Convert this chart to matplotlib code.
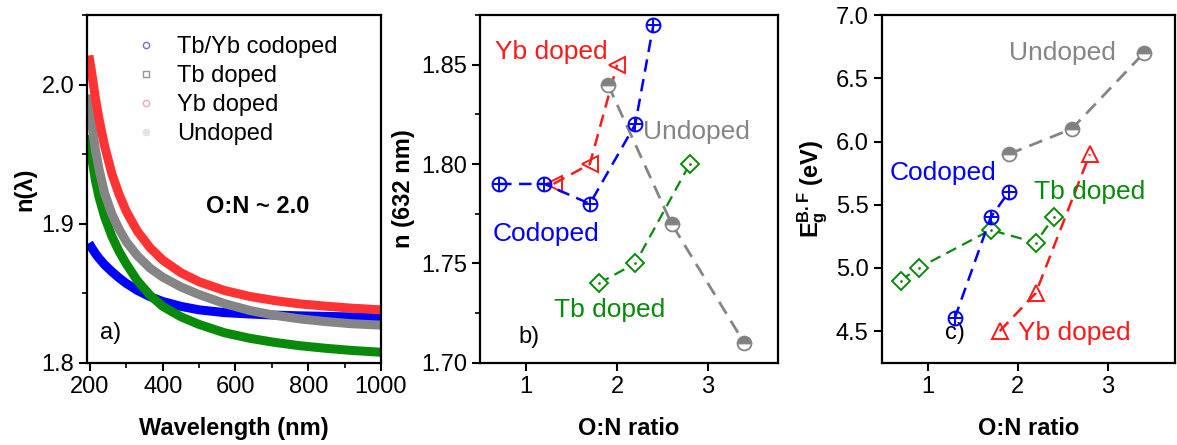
import numpy as np
import matplotlib.pyplot as plt
from matplotlib.lines import Line2D
from matplotlib.ticker import MultipleLocator

plt.rcParams['font.family'] = ['Liberation Sans', 'DejaVu Sans']
plt.rcParams['mathtext.fontset'] = 'custom'
plt.rcParams['mathtext.rm'] = 'Liberation Sans'
plt.rcParams['mathtext.bf'] = 'Liberation Sans:bold'
plt.rcParams['mathtext.it'] = 'Liberation Sans:italic'

# --- panel a: dispersion curves n(lambda) ---
wl = [197, 205, 215, 225, 240, 260, 280, 300, 330, 365, 400, 450, 500, 570, 640, 710, 777, 850, 920, 1000]
n_codoped = [1.886, 1.8825, 1.8785, 1.875, 1.8705, 1.8655, 1.861, 1.857, 1.852, 1.8475, 1.844, 1.8405,
             1.838, 1.836, 1.835, 1.8342, 1.8337, 1.8333, 1.8329, 1.8325]
n_tb = [1.964, 1.947, 1.931, 1.919, 1.905, 1.891, 1.880, 1.871, 1.859, 1.8485, 1.8405, 1.833,
        1.8275, 1.8215, 1.8175, 1.8145, 1.8122, 1.8103, 1.8088, 1.8075]
n_yb = [2.021, 2.008, 1.990, 1.975, 1.956, 1.936, 1.921, 1.9087, 1.8947, 1.8827, 1.8738, 1.8647,
        1.8582, 1.8519, 1.8476, 1.8446, 1.8423, 1.8406, 1.8392, 1.838]
n_undoped = [1.993, 1.972, 1.953, 1.939, 1.922, 1.907, 1.896, 1.887, 1.877, 1.868, 1.8615, 1.8545,
             1.849, 1.8425, 1.8375, 1.834, 1.8315, 1.8295, 1.828, 1.827]
legend_labels = ["Tb/Yb codoped", "Tb doped", "Yb doped", "Undoped"]

# --- panel b: n at 632 nm vs O:N ratio ---
b_co_x = [0.7, 1.2, 1.7, 2.2, 2.4]
b_co_y = [1.79, 1.79, 1.78, 1.82, 1.87]
b_yb_x = [1.3, 1.7, 2.0]
b_yb_y = [1.79, 1.80, 1.85]
b_tb_x = [1.8, 2.2, 2.8]
b_tb_y = [1.74, 1.75, 1.80]
b_un_x = [1.9, 2.6, 3.4]
b_un_y = [1.84, 1.77, 1.71]

# --- panel c: band gap vs O:N ratio ---
c_co_x = [1.3, 1.7, 1.9]
c_co_y = [4.6, 5.4, 5.6]
c_yb_x = [1.8, 2.2, 2.8]
c_yb_y = [4.5, 4.8, 5.9]
c_tb_x = [0.7, 0.9, 1.7, 2.2, 2.4]
c_tb_y = [4.9, 5.0, 5.3, 5.2, 5.4]
c_un_x = [1.9, 2.6, 3.4]
c_un_y = [5.9, 6.1, 6.7]

BLUE = '#0000ff'
RED = '#ff1a1a'
GREEN = '#0a8a0a'
GRAY = '#858585'
FS = 17

fig = plt.figure(figsize=(11.77, 4.45), dpi=100)
ax_a = fig.add_axes([0.0743, 0.185, 0.2494, 0.781])
ax_b = fig.add_axes([0.4078, 0.185, 0.2530, 0.781])
ax_c = fig.add_axes([0.7491, 0.185, 0.2495, 0.781])

for ax in (ax_a, ax_b, ax_c):
    for s in ax.spines.values():
        s.set_linewidth(1.6)
    ax.tick_params(which='major', direction='out', length=6, width=1.5, labelsize=FS)
    ax.tick_params(which='minor', direction='out', length=3.5, width=1.2)

# panel a
lw_a = 6.5
kw = dict(lw=lw_a, solid_capstyle='butt', solid_joinstyle='round')
ax_a.plot(wl, n_codoped, color=BLUE, **kw)
ax_a.plot(wl, n_tb, color=GREEN, **kw)
ax_a.plot(wl, n_undoped, color=GRAY, **kw)
ax_a.plot(wl, n_yb, color='#ff3333', **kw)
ax_a.set_xlim(193, 1000)
ax_a.set_ylim(1.8, 2.05)
ax_a.xaxis.set_major_locator(MultipleLocator(200))
ax_a.xaxis.set_minor_locator(MultipleLocator(100))
ax_a.yaxis.set_major_locator(MultipleLocator(0.1))
ax_a.yaxis.set_minor_locator(MultipleLocator(0.05))
ax_a.set_xlabel("Wavelength (nm)", fontsize=FS, fontweight='bold', labelpad=14)
ax_a.set_ylabel("n(λ)", fontsize=FS, fontweight='bold')
handles = [
    Line2D([], [], ls='none', marker='o', ms=4.5, mfc='none', mec='#7070e0', mew=1),
    Line2D([], [], ls='none', marker='s', ms=4.5, mfc='none', mec='#909890', mew=1),
    Line2D([], [], ls='none', marker='o', ms=4.5, mfc='none', mec='#f0a8b8', mew=1),
    Line2D([], [], ls='none', marker='o', ms=4.5, mfc='#e4e4e4', mec='#e4e4e4', mew=1),
]
ax_a.legend(handles, legend_labels, loc='upper left', bbox_to_anchor=(0.16, 0.94),
            frameon=False, fontsize=FS, handlelength=1.0, handletextpad=0.8,
            labelspacing=0.3, borderpad=0, borderaxespad=0)
ax_a.text(662, 1.912, "O:N ~ 2.0", fontsize=FS, fontweight='bold', ha='center', va='center')
ax_a.text(227, 1.8215, "a)", fontsize=FS, ha='left', va='center')

# panel b
dash = (0, (5, 3))
ax_b.plot(b_un_x, b_un_y, color=GRAY, lw=2, ls=dash, marker='o', ms=10, fillstyle='top',
          mfc='#808080', mfcalt='white', mec=GRAY, mew=1.3, zorder=4)
ax_b.plot(b_tb_x, b_tb_y, color=GREEN, lw=1.6, ls=dash, marker='D', ms=9, mfc='white',
          mec=GREEN, mew=1.4, zorder=3)
ax_b.plot(b_tb_x, b_tb_y, ls='none', marker='.', ms=2, color='#556b2f', zorder=3.5)
ax_b.plot(b_yb_x, b_yb_y, color=RED, lw=1.8, ls=dash, marker='<', ms=11, mfc='none',
          mec=RED, mew=1.4, zorder=3)
ax_b.plot(b_co_x, b_co_y, color=BLUE, lw=1.8, ls=dash, marker='o', ms=10, mfc='none',
          mec=BLUE, mew=1.4, zorder=5)
ax_b.plot(b_co_x, b_co_y, ls='none', marker='+', ms=10, mec=BLUE, mew=1.4, zorder=5)
ax_b.set_xlim(0.49, 3.77)
ax_b.set_ylim(1.70, 1.875)
ax_b.xaxis.set_major_locator(MultipleLocator(1))
ax_b.yaxis.set_major_locator(MultipleLocator(0.05))
ax_b.yaxis.set_minor_locator(MultipleLocator(0.025))
ax_b.yaxis.set_major_formatter(plt.FormatStrFormatter('%.2f'))
ax_b.set_xlabel("O:N ratio", fontsize=FS, fontweight='bold', labelpad=14)
ax_b.set_ylabel("n (632 nm)", fontsize=FS, fontweight='bold')
ax_b.text(0.66, 1.8563, "Yb doped", color=RED, fontsize=19, va='center')
ax_b.text(2.29, 1.816, "Undoped", color=GRAY, fontsize=19, va='center')
ax_b.text(0.625, 1.7647, "Codoped", color=BLUE, fontsize=19, va='center')
ax_b.text(1.30, 1.7265, "Tb doped", color=GREEN, fontsize=19, va='center')
ax_b.text(0.91, 1.713, "b)", color='black', fontsize=FS, va='center')

# panel c
ax_c.plot(c_un_x, c_un_y, color=GRAY, lw=2, ls=dash, marker='o', ms=10, fillstyle='top',
          mfc='#808080', mfcalt='white', mec=GRAY, mew=1.3, zorder=4)
ax_c.plot(c_tb_x, c_tb_y, color=GREEN, lw=1.6, ls=dash, marker='D', ms=9, mfc='white',
          mec=GREEN, mew=1.4, zorder=3)
ax_c.plot(c_tb_x, c_tb_y, ls='none', marker='.', ms=2, color='#556b2f', zorder=3.5)
ax_c.plot(c_yb_x, c_yb_y, color=RED, lw=1.8, ls=dash, marker='^', ms=11, mfc='none',
          mec=RED, mew=1.4, zorder=3)
ax_c.plot(c_co_x, c_co_y, color=BLUE, lw=1.8, ls=dash, marker='o', ms=10, mfc='none',
          mec=BLUE, mew=1.4, zorder=5)
ax_c.plot(c_co_x, c_co_y, ls='none', marker='+', ms=10, mec=BLUE, mew=1.4, zorder=5)
ax_c.set_xlim(0.49, 3.75)
ax_c.set_ylim(4.25, 7.0)
ax_c.xaxis.set_major_locator(MultipleLocator(1))
ax_c.yaxis.set_major_locator(MultipleLocator(0.5))
ax_c.set_xlabel("O:N ratio", fontsize=FS, fontweight='bold', labelpad=14)
ax_c.set_ylabel(r"$\mathbf{E_g^{B.F}}$ (eV)", fontsize=FS, fontweight='bold')
ax_c.text(1.907, 6.697, "Undoped", color=GRAY, fontsize=19, va='center')
ax_c.text(0.573, 5.75, "Codoped", color=BLUE, fontsize=19, va='center')
ax_c.text(2.183, 5.602, "Tb doped", color=GREEN, fontsize=19, va='center')
ax_c.text(2.007, 4.484, "Yb doped", color=RED, fontsize=19, va='center')
ax_c.text(1.19, 4.484, "c)", color='black', fontsize=FS, va='center')

fig.savefig("out.png", dpi=100)
